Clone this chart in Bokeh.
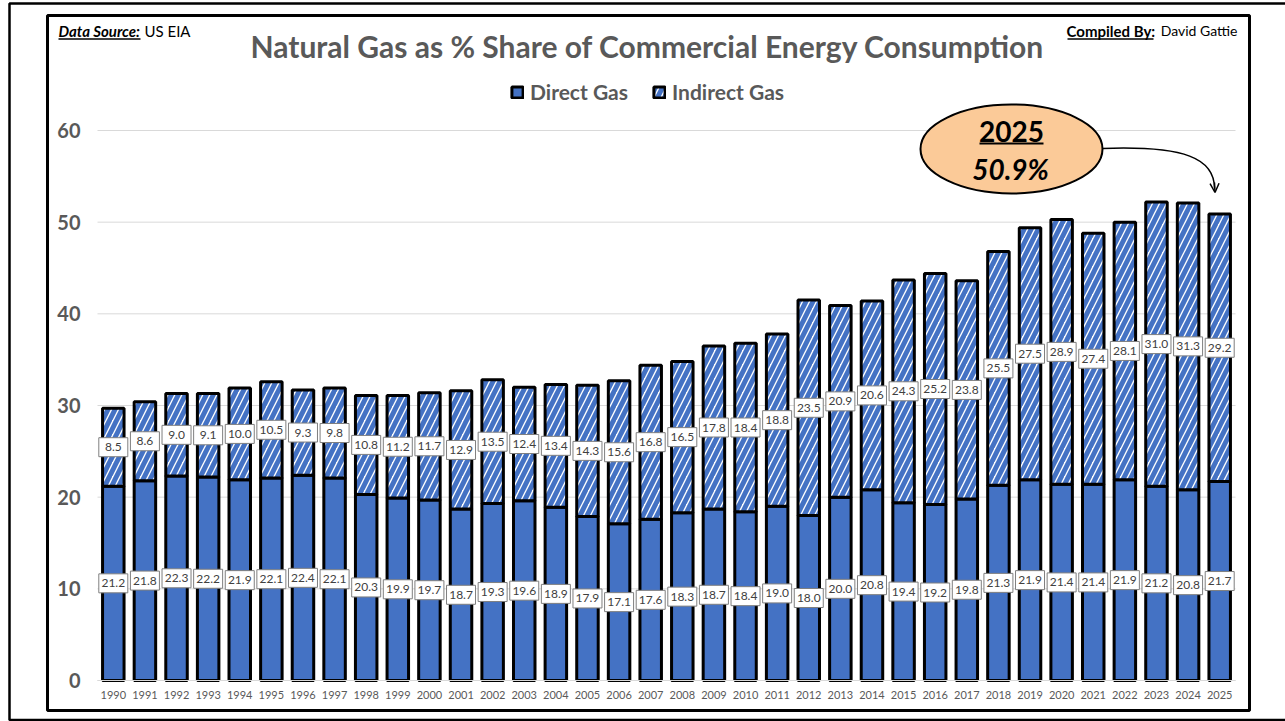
from bokeh.plotting import figure
from bokeh.models import (ColumnDataSource, Range1d, FixedTicker, Label,
                          BoxAnnotation, Legend, LegendItem, Arrow, OpenHead)
from bokeh.core.properties import value
from bokeh.embed import file_html
from bokeh.resources import INLINE

# ---------------- data ----------------
years = [str(y) for y in range(1990, 2026)]
direct = [21.2, 21.8, 22.3, 22.2, 21.9, 22.1, 22.4, 22.1, 20.3, 19.9,
          19.7, 18.7, 19.3, 19.6, 18.9, 17.9, 17.1, 17.6, 18.3, 18.7,
          18.4, 19.0, 18.0, 20.0, 20.8, 19.4, 19.2, 19.8, 21.3, 21.9,
          21.4, 21.4, 21.9, 21.2, 20.8, 21.7]
indirect = [8.5, 8.6, 9.0, 9.1, 10.0, 10.5, 9.3, 9.8, 10.8, 11.2,
            11.7, 12.9, 13.5, 12.4, 13.4, 14.3, 15.6, 16.8, 16.5, 17.8,
            18.4, 18.8, 23.5, 20.9, 20.6, 24.3, 25.2, 23.8, 25.5, 27.5,
            28.9, 27.4, 28.1, 31.0, 31.3, 29.2]
y_ticks = [0, 10, 20, 30, 40, 50, 60]
series_names = ["Direct Gas", "Indirect Gas"]
title_text = "Natural Gas as % Share of Commercial Energy Consumption"

# ---------------- style ----------------
FONT = "Lato"
GRAY = "#595959"
BLUE = "#4472C4"
LABEL_GRAY = "#404040"

W, H = 1285, 721
FL, FR, FB, F60 = 97, 1235, 680, 130   # plot-area geometry in canvas pixels
N = len(years)
PX_CAT = (FR - FL) / N
PX_UNIT = (FB - F60) / 60.0


def u(px):
    """canvas x pixel -> data x"""
    return (px - FL) / PX_CAT - 0.5


def v(py):
    """canvas y pixel -> data y"""
    return (FB - py) / PX_UNIT


xi = list(range(N))
src = ColumnDataSource(dict(
    x=xi,
    direct=direct,
    indirect=indirect,
    dmid=[d / 2 for d in direct],
    imid=[d + i / 2 for d, i in zip(direct, indirect)],
    dtxt=[f"{d:.1f}" for d in direct],
    itxt=[f"{i:.1f}" for i in indirect],
))

p = figure(width=W, height=H, x_range=Range1d(u(0), u(W)), y_range=Range1d(v(H), v(0)),
           min_border=0, output_backend="svg", toolbar_location=None,
           outline_line_color=None, background_fill_color="white",
           border_fill_color="white")

# gridlines limited to the plot area
p.xgrid.grid_line_color = None
p.ygrid.grid_line_color = None
p.segment(x0=[u(FL)] * len(y_ticks), x1=[u(FR)] * len(y_ticks),
          y0=y_ticks, y1=y_ticks, line_color="#D9D9D9", line_width=1)

rs = p.vbar_stack(["direct", "indirect"], x="x", width=0.68, source=src,
                  fill_color=[BLUE, "white"], line_color="black", line_width=3,
                  hatch_pattern=[" ", "/"], hatch_color=BLUE,
                  hatch_weight=5, hatch_scale=14)

# axes drawn inside the canvas at fixed locations
p.yaxis.fixed_location = u(FL)
p.yaxis.ticker = FixedTicker(ticks=y_ticks)
p.yaxis.axis_line_color = None
p.yaxis.major_tick_line_color = None
p.yaxis.minor_tick_line_color = None
p.yaxis.major_tick_in = 0
p.yaxis.major_tick_out = 0
p.yaxis.major_label_standoff = 17
p.yaxis.major_label_text_font = FONT
p.yaxis.major_label_text_font_size = "20px"
p.yaxis.major_label_text_font_style = "bold"
p.yaxis.major_label_text_color = GRAY

p.xaxis.fixed_location = 0
p.xaxis.bounds = (u(FL), u(FR))
p.xaxis.ticker = FixedTicker(ticks=xi)
p.xaxis.major_label_overrides = {i: y for i, y in zip(xi, years)}
p.xaxis.axis_line_color = "#D9D9D9"
p.xaxis.major_tick_line_color = None
p.xaxis.minor_tick_line_color = None
p.xaxis.major_tick_in = 0
p.xaxis.major_tick_out = 0
p.xaxis.major_label_standoff = 10
p.xaxis.major_label_text_font = FONT
p.xaxis.major_label_text_font_size = "11px"
p.xaxis.major_label_text_color = GRAY

# data labels: white boxes with grey borders
for ycol, tcol in (("dmid", "dtxt"), ("imid", "itxt")):
    p.rect(x="x", y=ycol, width=29, height=19, width_units="screen",
           height_units="screen", source=src, fill_color="white",
           line_color="#7F7F7F", line_width=1)
    p.text(x="x", y=ycol, text=tcol, source=src, text_align="center",
           text_baseline="middle", text_font=value(FONT),
           text_font_size="12px", text_color=LABEL_GRAY)

# legend
legend = Legend(items=[LegendItem(label=series_names[0], renderers=[rs[0]]),
                       LegendItem(label=series_names[1], renderers=[rs[1]])],
                orientation="horizontal", location=(510, H - 104),
                border_line_color=None, background_fill_alpha=0,
                label_text_font=FONT, label_text_font_size="21px",
                label_text_font_style="bold", label_text_color=GRAY,
                glyph_width=14, glyph_height=14, label_standoff=6,
                spacing=24, padding=0, margin=0)
p.add_layout(legend)

# title and credits
p.add_layout(Label(x=u(647), y=v(45), text=title_text, text_align="center",
                   text_baseline="middle", text_font=FONT, text_font_size="30px",
                   text_font_style="bold", text_color=GRAY))
p.add_layout(Label(x=u(58), y=v(30), text="Data Source:", text_align="left",
                   text_baseline="middle", text_font=FONT, text_font_size="15px",
                   text_font_style="bold italic", text_color="black"))
p.add_layout(Label(x=u(190), y=v(30), text="US EIA", text_align="right",
                   text_baseline="middle", text_font=FONT, text_font_size="15px",
                   text_color="black"))
p.add_layout(Label(x=u(1066), y=v(30), text="Compiled By:", text_align="left",
                   text_baseline="middle", text_font=FONT, text_font_size="15px",
                   text_font_style="bold", text_color="black"))
p.add_layout(Label(x=u(1237), y=v(30), text="David Gattie", text_align="right",
                   text_baseline="middle", text_font=FONT, text_font_size="14px",
                   text_color="black"))
p.segment(x0=[u(58), u(1067)], x1=[u(140), u(1153)], y0=[v(38.5)] * 2, y1=[v(38.5)] * 2,
          line_color="black", line_width=1.3)

# frames
p.add_layout(BoxAnnotation(left=u(47), right=u(1249), top=v(15), bottom=v(710),
                           fill_alpha=0, line_color="black", line_alpha=1,
                           line_width=3))
p.add_layout(BoxAnnotation(left=u(9), right=u(1300), top=v(3), bottom=v(719.5),
                           fill_alpha=0, line_color="black", line_alpha=1,
                           line_width=2.5))

# callout
total_last = direct[-1] + indirect[-1]
p.ellipse(x=[u(1011)], y=[v(148.5)], width=182, height=89,
          width_units="screen", height_units="screen",
          fill_color="#FBCA98", line_color="black", line_width=2)
p.text(x=[u(1011)], y=[v(131)], text=[years[-1]], text_font=value(FONT),
       text_font_size="28px", text_font_style="bold", text_align="center",
       text_baseline="middle", text_color="black")
p.segment(x0=[u(979)], x1=[u(1043)], y0=[v(143)], y1=[v(143)],
          line_color="black", line_width=2)
p.text(x=[u(1010)], y=[v(168)], text=[f"{total_last:.1f}%"], text_font=value(FONT),
       text_font_size="28px", text_font_style="bold italic", text_align="center",
       text_baseline="middle", text_color="black")
p.bezier(x0=[u(1102)], y0=[v(148)], x1=[u(1214)], y1=[v(188)],
         cx0=[u(1185)], cy0=[v(145)], cx1=[u(1214)], cy1=[v(158)],
         line_color="black", line_width=1.5)
p.add_layout(Arrow(end=OpenHead(size=9, line_width=1.5, line_color="black"),
                   x_start=u(1214), y_start=v(182), x_end=u(1214.5), y_end=v(192),
                   line_color="black", line_width=1.5))

open("out.html", "w").write(file_html(p, INLINE))
